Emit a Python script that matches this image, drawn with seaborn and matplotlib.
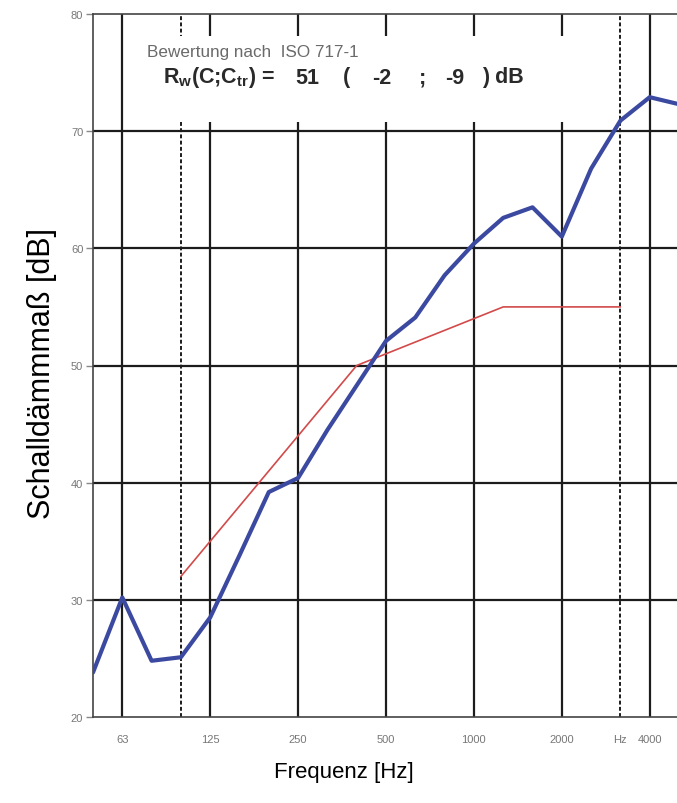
import numpy as np
import pandas as pd
import matplotlib.pyplot as plt
import seaborn as sns
from matplotlib.patches import Rectangle

# Terzbänder (Hz) und gemessenes Schalldämmmaß R in dB
bands = ["50", "63", "80", "100", "125", "160", "200", "250", "315", "400",
         "500", "630", "800", "1000", "1250", "1600", "2000", "2500", "3150",
         "4000", "5000"]
measured = [23.8, 30.2, 24.8, 25.1, 28.5, 33.8, 39.2, 40.4, 44.5, 48.3,
            52.1, 54.1, 57.7, 60.4, 62.6, 63.5, 61.0, 66.8, 70.9, 72.9, 72.3]

# verschobene Bezugskurve nach ISO 717-1 (100 - 3150 Hz)
ref_bands = ["100", "125", "160", "200", "250", "315", "400", "500", "630",
             "800", "1000", "1250", "1600", "2000", "2500", "3150"]
reference = [32, 35, 38, 41, 44, 47, 50, 51, 52, 53, 54, 55, 55, 55, 55, 55]

octave_bands = ["63", "125", "250", "500", "1000", "2000", "3150", "4000"]
octave_labels = ["63", "125", "250", "500", "1000", "2000", "Hz", "4000"]
y_ticks = [20, 30, 40, 50, 60, 70, 80]

df = pd.DataFrame({"pos": range(len(bands)), "R": measured})
ref_df = pd.DataFrame({"pos": [bands.index(b) for b in ref_bands], "R": reference})

sns.set_style("white")
plt.rcParams['font.family'] = ['Liberation Sans', 'DejaVu Sans']
plt.rcParams['mathtext.fontset'] = 'custom'
plt.rcParams['mathtext.rm'] = 'Liberation Sans'
plt.rcParams['mathtext.bf'] = 'Liberation Sans:bold'
plt.rcParams['mathtext.it'] = 'Liberation Sans:italic'

W, H = 677, 804
fig = plt.figure(figsize=(W / 100, H / 100), dpi=100)
ax = fig.add_axes([93 / W, 86 / H, 586 / W, 703 / H])

# Raster: Oktavlinien durchgezogen, 100 Hz / 3150 Hz gestrichelt
for b in ["63", "125", "250", "500", "1000", "2000", "4000"]:
    ax.axvline(bands.index(b), color="#1c1c1c", lw=1.6, zorder=1)
for b in ["100", "3150"]:
    ax.axvline(bands.index(b), color="#1c1c1c", lw=1.4, ls=(0, (2, 1.2)), zorder=1)
for v in y_ticks[1:-1]:
    ax.axhline(v, color="#1c1c1c", lw=1.6, zorder=1)

# weißes Feld für die Bewertung
ax.add_patch(Rectangle((0.055, 0.846), 0.834, 0.123, transform=ax.transAxes,
                       facecolor="white", edgecolor="none", zorder=2))

sns.lineplot(data=ref_df, x="pos", y="R", color="#d24a4a", lw=1.2, ax=ax, zorder=3)
sns.lineplot(data=df, x="pos", y="R", color="#3b4aa0", lw=3.0, ax=ax, zorder=4)

ax.set_xlim(0, 20)
ax.set_ylim(20, 80)
ax.set_xticks([bands.index(b) for b in octave_bands], octave_labels)
ax.set_xticks(range(len(bands)), minor=True)
ax.set_yticks(y_ticks)
ax.tick_params(bottom=True, left=True)
ax.tick_params(axis='x', which='major', length=0, pad=12, labelsize=8,
               labelcolor='#777777')
ax.tick_params(axis='x', which='minor', length=3, direction='in',
               color='#999999', width=0.8)
ax.tick_params(axis='y', length=5, color='#888888', width=1, labelsize=8,
               labelcolor='#777777', pad=2)
for s in ["left", "bottom", "top"]:
    ax.spines[s].set_color("#444444")
    ax.spines[s].set_linewidth(1.2)
ax.spines["right"].set_visible(False)

ax.set_xlabel("Frequenz [Hz]", fontsize=16, color="black")
ax.set_ylabel("Schalldämmmaß [dB]", fontsize=22, color="black")
ax.xaxis.set_label_coords(0.428, -0.062)
ax.yaxis.set_label_coords(-0.062, 0.49)

# Einzahlangabe
fig.text(147 / W, 1 - 52 / H, "Bewertung nach  ISO 717-1", fontsize=12.3,
         color="#6a6a6a", va="center", ha="left")
row_y = 1 - 78 / H
parts = [(163, r"R$_\mathbf{w}$(C;C$_\mathbf{tr}$) ="), (295, "51"), (343, "("),
         (372, "-2"), (419, ";"), (445, "-9"), (482, ") dB")]
for x, s in parts:
    fig.text(x / W, row_y, s, fontsize=15.5, fontweight="bold", color="#2a2a2a",
             va="center", ha="left")

fig.savefig("out.png", dpi=100)
